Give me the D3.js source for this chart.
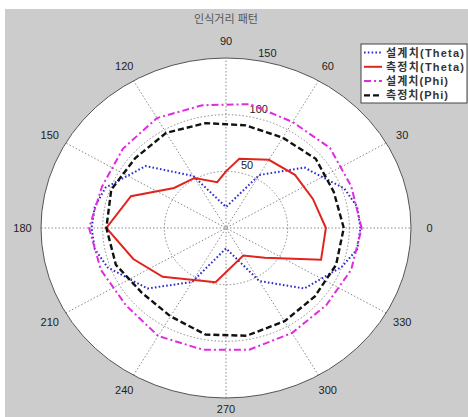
<!DOCTYPE html>
<html>
<head>
<meta charset="utf-8">
<script src="https://cdn.jsdelivr.net/npm/d3@7/dist/d3.min.js"></script>
<style>
body { margin: 0; background: #fff; }
text { font-family: "Liberation Sans", Arial, "Noto Sans CJK KR", sans-serif; }
</style>
</head>
<body>
<div id="chart"></div>
<script>
// chart data
const chartTitle = "인식거리 패턴"
const ringTicks = [50, 100]
const rMax = 150
const spokeAngles = [0, 30, 60, 90, 120, 150]
const angleLabels = [0, 30, 60, 90, 120, 150, 180, 210, 240, 270, 300, 330]
const seriesNames = ["설계치(Theta)", "측정치(Theta)", "설계치(Phi)", "측정치(Phi)"]

const thetaDesignAngles = [0, 10, 20, 40, 60, 90, 120, 140, 160, 170, 180, 190, 200, 220, 240, 270, 300, 320, 340, 350]
const thetaDesignR      = [109, 108, 102, 83, 54, 18.5, 53, 85, 104, 108, 109, 108, 102, 83, 55, 18, 54, 83, 100, 108]

const thetaMeasAngles = [0, 20, 40, 60, 80, 90, 100, 120, 140, 160, 180, 200, 220, 260, 300, 320, 340]
const thetaMeasR      = [81, 75, 73, 69.5, 62, 50, 41, 51, 55, 82, 97, 80, 67, 48.5, 28, 41, 82]

const phiDesignAngles = [0, 20, 40, 60, 80, 100, 120, 140, 160, 180, 200, 220, 240, 260, 280, 300, 320, 340]
const phiDesignR      = [110, 108, 110, 108, 111, 110, 112, 109, 107, 111, 108, 106, 110, 109, 109, 107, 106, 108]

const phiMeasAngles = [0, 20, 40, 60, 80, 100, 120, 140, 160, 180, 200, 220, 240, 260, 280, 300, 320, 340]
const phiMeasR      = [95.5, 93, 95, 92, 92, 94, 97, 96, 99, 97, 95, 89, 90, 95.5, 96.5, 95, 94, 95]

const series = [
    { name: seriesNames[0], angles: thetaDesignAngles, r: thetaDesignR, color: "#2b2bcf", width: 2, dash: "1.6,2.2" },
    { name: seriesNames[1], angles: thetaMeasAngles, r: thetaMeasR, color: "#e0241e", width: 2, dash: null },
    { name: seriesNames[2], angles: phiDesignAngles, r: phiDesignR, color: "#e02ce0", width: 2, dash: "7,3,2,3" },
    { name: seriesNames[3], angles: phiMeasAngles, r: phiMeasR, color: "#111", width: 2.4, dash: "6,3" }
]

const width = 468, height = 417
const cx = 226, cy = 228
const rx = 185, ry = 170

const svg = d3.select("#chart").append("svg")
    .attr("width", width)
    .attr("height", height)

// grey figure background
svg.append("rect")
    .attr("x", 5).attr("y", 9)
    .attr("width", width - 5).attr("height", height - 9)
    .attr("fill", "#cccccc")

// scales: the axes are stretched, so x and y use their own ranges
const x = d3.scaleLinear().domain([-rMax, rMax]).range([cx - rx, cx + rx])
const y = d3.scaleLinear().domain([-rMax, rMax]).range([cy + ry, cy - ry])
const rad = d => d * Math.PI / 180

// white polar disc
svg.append("ellipse")
    .attr("cx", x(0)).attr("cy", y(0))
    .attr("rx", x(rMax) - x(0)).attr("ry", y(0) - y(rMax))
    .attr("fill", "#fff")

const grid = svg.append("g")
    .attr("fill", "none")
    .attr("stroke", "#8a8a8a")
    .attr("stroke-width", 1)
    .attr("stroke-dasharray", "1.5,2")

grid.selectAll(".ring")
    .data(ringTicks)
    .enter()
    .append("ellipse")
    .attr("class", "ring")
    .attr("cx", x(0)).attr("cy", y(0))
    .attr("rx", d => x(d) - x(0))
    .attr("ry", d => y(0) - y(d))

grid.selectAll(".spoke")
    .data(spokeAngles)
    .enter()
    .append("line")
    .attr("class", "spoke")
    .attr("x1", d => x(-rMax * Math.cos(rad(d))))
    .attr("y1", d => y(-rMax * Math.sin(rad(d))))
    .attr("x2", d => x(rMax * Math.cos(rad(d))))
    .attr("y2", d => y(rMax * Math.sin(rad(d))))

// outer circle
svg.append("ellipse")
    .attr("cx", x(0)).attr("cy", y(0))
    .attr("rx", x(rMax) - x(0)).attr("ry", y(0) - y(rMax))
    .attr("fill", "none")
    .attr("stroke", "#555")
    .attr("stroke-width", 1)

// ring labels at 82 degrees
const ringLabelVals = ringTicks.concat([rMax])
svg.selectAll(".rlabel")
    .data(ringLabelVals)
    .enter()
    .append("text")
    .attr("class", "rlabel")
    .attr("x", d => x((d + 2.5) * Math.cos(rad(82))) + 6)
    .attr("y", d => y((d + 2.5) * Math.sin(rad(82))))
    .attr("font-size", 11)
    .attr("fill", "#222")
    .text(d => d)

// angle labels (the bottom one is nudged up so it stays inside the page)
svg.selectAll(".alabel")
    .data(angleLabels)
    .enter()
    .append("text")
    .attr("class", "alabel")
    .attr("x", d => x(1.1 * rMax * Math.cos(rad(d))))
    .attr("y", d => Math.min(y(1.1 * rMax * Math.sin(rad(d))), height - 8))
    .attr("text-anchor", "middle")
    .attr("dominant-baseline", "central")
    .attr("font-size", 11)
    .attr("fill", "#222")
    .text(d => d)

// data lines
const line = d3.line()
    .x(d => x(d.r * Math.cos(rad(d.a))))
    .y(d => y(d.r * Math.sin(rad(d.a))))
    .curve(d3.curveLinearClosed)

svg.selectAll(".series")
    .data(series)
    .enter()
    .append("path")
    .attr("class", "series")
    .attr("d", s => line(s.angles.map((a, i) => ({ a: a, r: s.r[i] }))))
    .attr("fill", "none")
    .attr("stroke", s => s.color)
    .attr("stroke-width", s => s.width)
    .attr("stroke-dasharray", s => s.dash)

// title
svg.append("text")
    .attr("x", cx)
    .attr("y", 19)
    .attr("text-anchor", "middle")
    .attr("dominant-baseline", "central")
    .attr("font-size", 11)
    .attr("fill", "#555")
    .text(chartTitle)

// legend
const legend = svg.append("g").attr("transform", "translate(361,44)")
legend.append("rect")
    .attr("width", 106).attr("height", 59)
    .attr("fill", "#fff")
    .attr("stroke", "#444")
    .attr("stroke-width", 1)

const item = legend.selectAll(".legend")
    .data(series)
    .enter()
    .append("g")
    .attr("class", "legend")
    .attr("transform", (d, i) => "translate(0," + (8.5 + i * 14.3) + ")")

item.append("line")
    .attr("x1", 3).attr("x2", 21)
    .attr("stroke", s => s.color)
    .attr("stroke-width", s => s.width)
    .attr("stroke-dasharray", s => s.dash)

item.append("text")
    .attr("x", 25)
    .attr("dominant-baseline", "central")
    .attr("font-size", 11)
    .attr("font-weight", "bold")
    .attr("fill", "#333")
    .attr("textLength", s => s.name.indexOf("Theta") >= 0 ? 78 : 62)
    .attr("lengthAdjust", "spacing")
    .text(s => s.name)
</script>
</body>
</html>
